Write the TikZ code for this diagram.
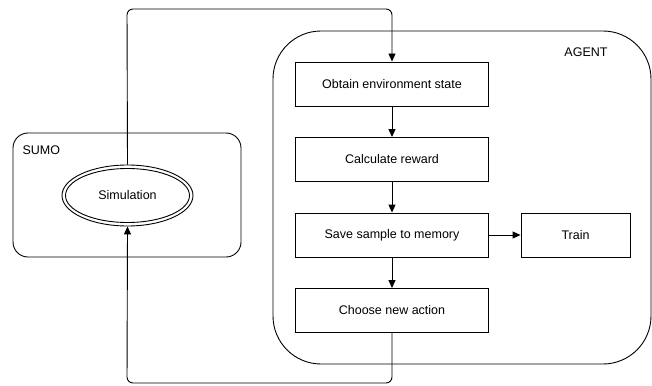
\documentclass[tikz,border=0pt]{standalone}
\usepackage{fontspec}
\setmainfont{Liberation Sans}
\usetikzlibrary{shapes.geometric,arrows.meta}
\begin{document}
\begin{tikzpicture}[x=1pt,y=-1pt,
  every node/.style={font=\fontsize{12.5}{15}\selectfont},
  stepbox/.style={draw,line width=0.9pt,minimum width=193pt,minimum height=44pt,inner sep=0pt},
  conn/.style={line width=0.9pt,rounded corners=6pt},
  arr/.style={conn,-{Triangle[length=8pt,width=7pt]}}]
\useasboundingbox (0,0) rectangle (652,385);
% containers
\node[draw,line width=0.9pt,rounded corners=15pt,minimum width=228pt,minimum height=124pt,inner sep=0pt] (sumo) at (127,195) {};
\node[anchor=west] (sumolbl) at (19,150) {SUMO};
\node[draw,line width=0.9pt,rounded corners=48pt,minimum width=378pt,minimum height=333pt,inner sep=0pt] (agent) at (462,197.5) {};
\node (agentlbl) at (586,52) {AGENT};
% simulation
\node[draw,ellipse,line width=0.9pt,minimum width=131pt,minimum height=61pt,inner sep=0pt] (sim) at (127.5,195.5) {};
\node[draw,ellipse,line width=0.9pt,minimum width=124pt,minimum height=54pt,inner sep=0pt] (simin) at (127.5,195.5) {Simulation};
% steps
\node[stepbox] (obtain) at (392,84) {Obtain environment state};
\node[stepbox] (calc) at (392,159.5) {Calculate reward};
\node[stepbox] (save) at (392,235) {Save sample to memory};
\node[stepbox] (choose) at (392,310.5) {Choose new action};
\node[stepbox,minimum width=109pt] (train) at (575.5,235) {Train};
% connectors
\coordinate (tl) at (127,9);
\coordinate (tr) at (392,9);
\coordinate (bl) at (127,383);
\coordinate (br) at (392,383);
\draw[arr] (sim.north) -- (tl) -- (tr) -- (obtain.north);
\draw[arr] (choose.south) -- (br) -- (bl) -- (sim.south);
\draw[arr] (obtain) -- (calc);
\draw[arr] (calc) -- (save);
\draw[arr] (save) -- (choose);
\draw[arr] (save) -- (train);
\end{tikzpicture}
\end{document}
